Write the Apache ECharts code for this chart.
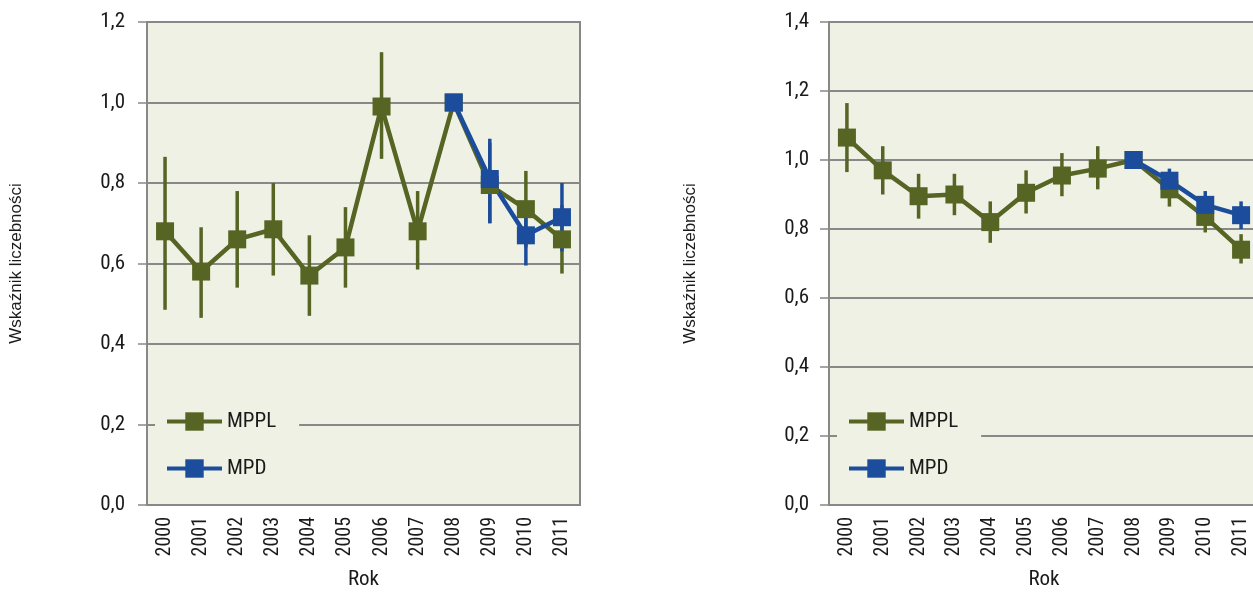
<!DOCTYPE html>
<html>
<head>
<meta charset="utf-8">
<script src="https://cdn.jsdelivr.net/npm/echarts@6/dist/echarts.min.js"></script>
<style>
  html, body { margin: 0; padding: 0; background: #fff; overflow: hidden; }
  #wrap { position: relative; width: 1253px; height: 595px; overflow: hidden; }
  #lewy { position: absolute; left: 0; top: 0; width: 626px; height: 595px; }
  #prawy { position: absolute; left: 626px; top: 0; width: 640px; height: 595px; }
</style>
</head>
<body>
<div id="wrap"><div id="lewy"></div><div id="prawy"></div></div>
<script>
const lata = ["2000", "2001", "2002", "2003", "2004", "2005", "2006", "2007", "2008", "2009", "2010", "2011"];

// wykres lewy
const mpplA = [0.68, 0.58, 0.66, 0.685, 0.57, 0.64, 0.99, 0.68, 1.0, 0.795, 0.735, 0.66];
const mpplDolA = [0.485, 0.465, 0.54, 0.57, 0.47, 0.54, 0.86, 0.585, 1.0, 0.70, 0.64, 0.575];
const mpplGoraA = [0.865, 0.69, 0.78, 0.80, 0.67, 0.74, 1.125, 0.78, 1.0, 0.90, 0.83, 0.745];
const mpdA = [null, null, null, null, null, null, null, null, 1.0, 0.81, 0.67, 0.715];
const mpdDolA = [null, null, null, null, null, null, null, null, 1.0, 0.70, 0.595, 0.63];
const mpdGoraA = [null, null, null, null, null, null, null, null, 1.0, 0.91, 0.75, 0.80];

// wykres prawy
const mpplB = [1.065, 0.97, 0.895, 0.90, 0.82, 0.905, 0.955, 0.975, 1.0, 0.915, 0.835, 0.74];
const mpplDolB = [0.965, 0.90, 0.83, 0.84, 0.76, 0.845, 0.895, 0.915, 1.0, 0.865, 0.79, 0.70];
const mpplGoraB = [1.165, 1.04, 0.96, 0.96, 0.88, 0.97, 1.02, 1.04, 1.0, 0.965, 0.88, 0.785];
const mpdB = [null, null, null, null, null, null, null, null, 1.0, 0.94, 0.87, 0.84];
const mpdDolB = [null, null, null, null, null, null, null, null, 1.0, 0.90, 0.83, 0.80];
const mpdGoraB = [null, null, null, null, null, null, null, null, 1.0, 0.975, 0.91, 0.88];

const ZIELONY = "#566424";
const NIEBIESKI = "#1c4c9c";
const TLO = "#eef1e3";
const SZARY = "#888888";
const waski = "'Liberation Sans Narrow', 'Roboto Condensed', 'DejaVu Sans Condensed', sans-serif";

const slupki = (gora, dol) =>
  lata.map((r, i) => (gora[i] == null ? null : [i, gora[i], dol[i]])).filter((d) => d);

const rysujSlupek = (kolor) => (params, api) => {
  const g = api.coord([api.value(0), api.value(1)]);
  const d = api.coord([api.value(0), api.value(2)]);
  return {
    type: "line",
    shape: { x1: g[0], y1: g[1], x2: d[0], y2: d[1] },
    style: { stroke: kolor, lineWidth: 3.5 },
  };
};

const opcje = (cfg) => {
  return {
    animation: false,
    grid: {
      left: cfg.left, right: cfg.right, top: 22, bottom: 86,
      show: true, backgroundColor: TLO, borderColor: SZARY, borderWidth: 2,
    },
    legend: {
      data: ["MPPL", "MPD"],
      orient: "vertical",
      left: cfg.legendLeft,
      top: 401,
      padding: [10, 23, 10, 10],
      backgroundColor: TLO,
      itemWidth: 55,
      itemHeight: 23,
      itemGap: 26,
      lineStyle: { width: 4 },
      textStyle: { fontFamily: waski, fontSize: 21, color: "#1a1a1a" },
    },
    xAxis: {
      type: "category",
      data: lata,
      boundaryGap: true,
      name: "Rok",
      nameLocation: "middle",
      nameGap: 64,
      nameTextStyle: { fontFamily: waski, fontSize: 21, color: "#1a1a1a" },
      axisLine: { lineStyle: { color: SZARY, width: 2 } },
      axisTick: { length: 8, lineStyle: { color: SZARY, width: 1.5 } },
      axisLabel: { rotate: 90, margin: 12, fontFamily: waski, fontSize: 20, color: "#1a1a1a" },
    },
    yAxis: {
      type: "value",
      min: 0,
      max: cfg.max,
      interval: 0.2,
      name: "Wskaźnik liczebności",
      nameLocation: "middle",
      nameGap: cfg.nameGap,
      nameTextStyle: { fontFamily: "'Liberation Sans', Arial, sans-serif", fontSize: 17, color: "#1a1a1a" },
      axisLine: { show: true, lineStyle: { color: SZARY, width: 2 } },
      axisTick: { show: true, length: 9, lineStyle: { color: SZARY, width: 1.5 } },
      splitLine: { lineStyle: { color: SZARY, width: 2 } },
      axisLabel: {
        margin: cfg.labelMargin,
        fontFamily: waski, fontSize: 21, color: "#1a1a1a",
        formatter: (v) => v.toFixed(1).replace(".", ","),
      },
    },
    series: [
      {
        name: "MPPL bledy", type: "custom",
        renderItem: rysujSlupek(ZIELONY),
        encode: { x: 0, y: [1, 2] },
        data: slupki(cfg.mpplGora, cfg.mpplDol),
      },
      {
        name: "MPPL", type: "line",
        data: cfg.mppl,
        symbol: "rect", symbolSize: 18,
        lineStyle: { color: ZIELONY, width: 4.5 },
        itemStyle: { color: ZIELONY },
      },
      {
        name: "MPD bledy", type: "custom",
        renderItem: rysujSlupek(NIEBIESKI),
        encode: { x: 0, y: [1, 2] },
        data: slupki(cfg.mpdGora, cfg.mpdDol),
      },
      {
        name: "MPD", type: "line",
        data: cfg.mpd,
        symbol: "rect", symbolSize: 18,
        lineStyle: { color: NIEBIESKI, width: 4.5 },
        itemStyle: { color: NIEBIESKI },
      },
    ],
  };
};

const lewy = echarts.init(document.getElementById("lewy"));
lewy.setOption(opcje({
  left: 147, right: 46, legendLeft: 155, max: 1.2, nameGap: 122, labelMargin: 22,
  mppl: mpplA, mpplDol: mpplDolA, mpplGora: mpplGoraA,
  mpd: mpdA, mpdDol: mpdDolA, mpdGora: mpdGoraA,
}));

const prawy = echarts.init(document.getElementById("prawy"));
prawy.setOption(opcje({
  left: 203, right: 7, legendLeft: 211, max: 1.4, nameGap: 130, labelMargin: 20,
  mppl: mpplB, mpplDol: mpplDolB, mpplGora: mpplGoraB,
  mpd: mpdB, mpdDol: mpdDolB, mpdGora: mpdGoraB,
}));
</script>
</body>
</html>
